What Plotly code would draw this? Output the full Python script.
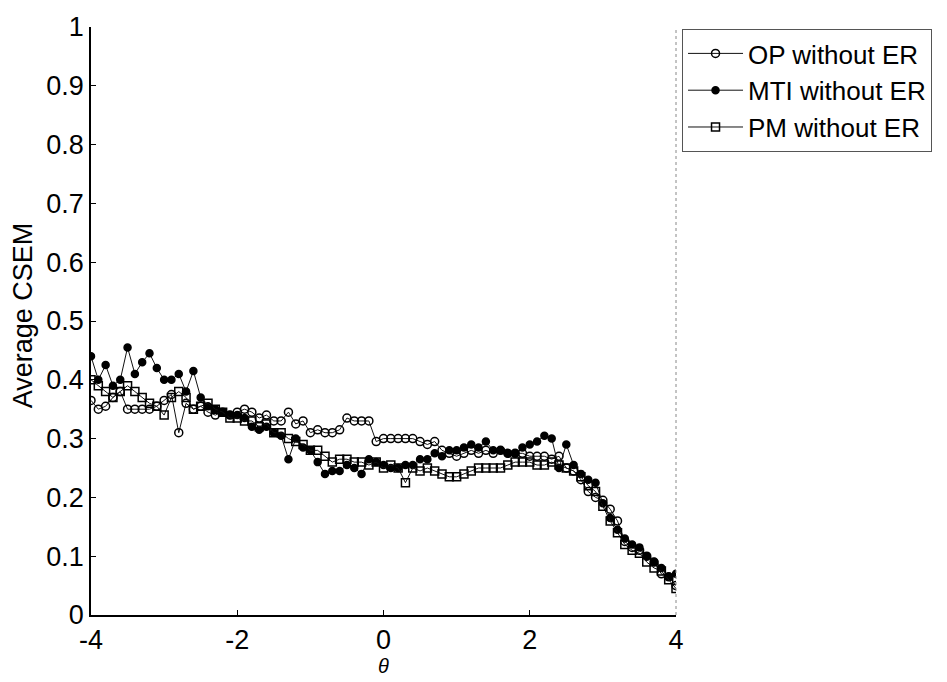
import plotly.graph_objects as go

theta = [round(-4 + 0.1 * i, 1) for i in range(81)]

op_without_er = [
    0.365, 0.35, 0.355, 0.37, 0.38, 0.35, 0.35, 0.35, 0.35, 0.355,
    0.365, 0.375, 0.31, 0.36, 0.35, 0.355, 0.345, 0.34, 0.345, 0.34,
    0.345, 0.35, 0.345, 0.335, 0.34, 0.33, 0.33, 0.345, 0.325, 0.33,
    0.31, 0.315, 0.31, 0.31, 0.315, 0.335, 0.33, 0.33, 0.33, 0.295,
    0.30, 0.30, 0.30, 0.30, 0.30, 0.295, 0.29, 0.295, 0.28, 0.275,
    0.27, 0.275, 0.28, 0.275, 0.28, 0.275, 0.28, 0.275, 0.275, 0.275,
    0.27, 0.27, 0.27, 0.265, 0.27, 0.25, 0.245, 0.23, 0.21, 0.20,
    0.195, 0.18, 0.16, 0.125, 0.115, 0.11, 0.10, 0.09, 0.07, 0.065,
    0.05,
]

mti_without_er = [
    0.44, 0.40, 0.425, 0.39, 0.40, 0.455, 0.41, 0.43, 0.445, 0.42,
    0.40, 0.40, 0.41, 0.38, 0.415, 0.37, 0.355, 0.35, 0.345, 0.34,
    0.34, 0.335, 0.32, 0.315, 0.32, 0.31, 0.305, 0.265, 0.30, 0.285,
    0.28, 0.26, 0.24, 0.245, 0.245, 0.255, 0.25, 0.24, 0.265, 0.26,
    0.255, 0.25, 0.25, 0.255, 0.255, 0.265, 0.265, 0.275, 0.27, 0.28,
    0.28, 0.285, 0.29, 0.285, 0.295, 0.28, 0.28, 0.275, 0.275, 0.285,
    0.29, 0.295, 0.305, 0.30, 0.25, 0.29, 0.255, 0.24, 0.23, 0.225,
    0.19, 0.165, 0.145, 0.13, 0.12, 0.115, 0.10, 0.09, 0.08, 0.065,
    0.07,
]

pm_without_er = [
    0.40, 0.39, 0.38, 0.37, 0.38, 0.39, 0.38, 0.37, 0.36, 0.355,
    0.34, 0.37, 0.38, 0.37, 0.35, 0.355, 0.36, 0.35, 0.345, 0.335,
    0.335, 0.33, 0.33, 0.32, 0.325, 0.31, 0.31, 0.30, 0.295, 0.29,
    0.28, 0.28, 0.27, 0.26, 0.265, 0.265, 0.26, 0.26, 0.255, 0.26,
    0.25, 0.255, 0.25, 0.225, 0.25, 0.245, 0.25, 0.245, 0.24, 0.235,
    0.235, 0.24, 0.245, 0.25, 0.25, 0.25, 0.25, 0.255, 0.26, 0.26,
    0.26, 0.255, 0.255, 0.26, 0.255, 0.25, 0.245, 0.235, 0.22, 0.21,
    0.185, 0.16, 0.14, 0.12, 0.11, 0.105, 0.09, 0.08, 0.075, 0.06,
    0.045,
]

x_ticks = [-4, -2, 0, 2, 4]
y_ticks = [0, 0.1, 0.2, 0.3, 0.4, 0.5, 0.6, 0.7, 0.8, 0.9, 1]
y_tick_labels = ["0", "0.1", "0.2", "0.3", "0.4", "0.5", "0.6", "0.7", "0.8", "0.9", "1"]

FONT = "Liberation Sans, Arial, sans-serif"

fig = go.Figure()
series = [
    ("OP without ER", op_without_er, "circle-open", 8),
    ("MTI without ER", mti_without_er, "circle", 7),
    ("PM without ER", pm_without_er, "square-open", 8),
]
for name, vals, sym, sz in series:
    fig.add_trace(go.Scatter(
        x=theta, y=vals, name=name, mode="lines+markers",
        line=dict(color="#111111", width=1),
        marker=dict(symbol=sym, size=sz, color="#000000",
                    line=dict(color="#000000", width=1.5)),
    ))

fig.update_layout(
    width=947, height=682,
    margin=dict(l=91, r=271, t=20, b=67),
    paper_bgcolor="white", plot_bgcolor="white",
    font=dict(family=FONT, size=27, color="black"),
    showlegend=True,
    legend=dict(
        x=1.0103, y=0.9966, xanchor="left", yanchor="top",
        bgcolor="white", bordercolor="#555555", borderwidth=1,
        font=dict(family=FONT, size=26, color="black"),
        itemwidth=55, tracegroupgap=0,
    ),
    xaxis=dict(
        range=[-4, 4], tickmode="array", tickvals=x_ticks,
        ticktext=[str(v) for v in x_ticks],
        showgrid=False, zeroline=False,
        showline=True, linecolor="black", linewidth=1.5,
        ticks="inside", ticklen=5, tickcolor="black",
        tickfont=dict(family=FONT, size=27),
    ),
    yaxis=dict(
        range=[0, 1], tickmode="array", tickvals=y_ticks, ticktext=y_tick_labels,
        showgrid=False, zeroline=False,
        showline=True, linecolor="black", linewidth=1.5,
        ticks="inside", ticklen=5, tickcolor="black",
        tickfont=dict(family=FONT, size=27),
    ),
    annotations=[
        dict(text="Average CSEM", textangle=-90, xref="paper", yref="paper",
             x=-0.116, y=0.51, xanchor="center", yanchor="middle", showarrow=False,
             font=dict(family=FONT, size=27, color="black")),
        dict(text="<i>θ</i>", xref="paper", yref="paper",
             x=0.5, y=-0.086, xanchor="center", yanchor="middle", showarrow=False,
             font=dict(family=FONT, size=20, color="black")),
    ],
    shapes=[
        dict(type="line", xref="paper", yref="paper", x0=1, x1=1, y0=0, y1=1,
             line=dict(color="#888888", width=1, dash="dot")),
    ],
)

fig.write_html("out.html")
